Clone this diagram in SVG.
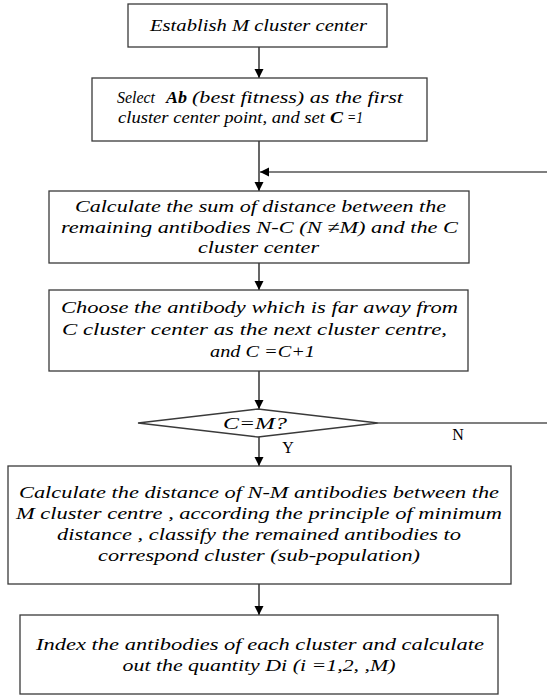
<svg xmlns="http://www.w3.org/2000/svg" width="547" height="695" viewBox="0 0 547 695">
<defs>
<marker id="ah" markerWidth="10" markerHeight="10" refX="9" refY="5" orient="auto" markerUnits="userSpaceOnUse">
<path d="M0,0.5 L9,5 L0,9.5 Z" fill="#000"/>
</marker>
<style>
.box{fill:#fff;stroke:#3a3a3a;stroke-width:1.3}
.t{font-family:"Liberation Serif","Times New Roman",serif;font-style:italic;font-size:17px;fill:#000;text-anchor:middle}
.s{text-anchor:start}
.u{font-family:"Liberation Serif","Times New Roman",serif;font-size:16px;fill:#000;text-anchor:middle}
.b{font-weight:bold}
.c{fill:none;stroke:#000;stroke-width:1.2}
</style>
</defs>
<rect width="547" height="695" fill="#fff"/>
<g id="connectors">
<line class="c" x1="259" y1="47" x2="259" y2="78" marker-end="url(#ah)"/>
<line class="c" x1="259" y1="141" x2="259" y2="191" marker-end="url(#ah)"/>
<line class="c" x1="547" y1="172" x2="260" y2="172" marker-end="url(#ah)"/>
<line class="c" x1="259" y1="263" x2="259" y2="290" marker-end="url(#ah)"/>
<line class="c" x1="259" y1="371" x2="259" y2="409" marker-end="url(#ah)"/>
<line class="c" x1="378" y1="423" x2="547" y2="423"/>
<line class="c" x1="259" y1="437" x2="259" y2="466" marker-end="url(#ah)"/>
<line class="c" x1="259" y1="584" x2="259" y2="615" marker-end="url(#ah)"/>
<text class="u" x="458" y="440">N</text>
<text class="u" x="288" y="453">Y</text>
</g>
<g id="n1">
<rect class="box" x="128" y="4" width="259" height="43"/>
<text class="t" x="258.5" y="31" textLength="217" lengthAdjust="spacingAndGlyphs">Establish M cluster center</text>
</g>
<g id="n2">
<rect class="box" x="92" y="78" width="335" height="63"/>
<text class="t s" x="117" y="103" textLength="38" lengthAdjust="spacingAndGlyphs">Select</text>
<text class="t s b" x="166" y="103" textLength="21" lengthAdjust="spacingAndGlyphs">Ab</text>
<text class="t s" x="192" y="103" textLength="211" lengthAdjust="spacingAndGlyphs">(best fitness) as the first</text>
<text class="t s" x="118" y="123" textLength="207" lengthAdjust="spacingAndGlyphs">cluster center point, and set</text>
<text class="t s b" x="330" y="123" textLength="13" lengthAdjust="spacingAndGlyphs">C</text>
<text class="t s" x="347" y="123" textLength="16" lengthAdjust="spacingAndGlyphs">=1</text>
</g>
<g id="n3">
<rect class="box" x="49" y="191" width="420" height="72"/>
<text class="t" x="260.5" y="212" textLength="371" lengthAdjust="spacingAndGlyphs">Calculate the sum of distance between the</text>
<text class="t" x="259.5" y="233" textLength="397" lengthAdjust="spacingAndGlyphs">remaining antibodies N-C (N ≠M)  and the C</text>
<text class="t" x="258.5" y="253" textLength="121" lengthAdjust="spacingAndGlyphs">cluster center</text>
</g>
<g id="n4">
<rect class="box" x="49" y="290" width="419" height="81"/>
<text class="t" x="259.5" y="313" textLength="397" lengthAdjust="spacingAndGlyphs">Choose  the antibody which is far away from</text>
<text class="t" x="254.5" y="335" textLength="385" lengthAdjust="spacingAndGlyphs">C  cluster center as the next  cluster centre,</text>
<text class="t" x="262.5" y="357" textLength="105" lengthAdjust="spacingAndGlyphs">and C =C+1</text>
</g>
<g id="n5">
<polygon class="box" points="138,423 258,409 378,423 258,437"/>
<text class="t" x="255" y="429" textLength="64" lengthAdjust="spacingAndGlyphs">C=M?</text>
</g>
<g id="n6">
<rect class="box" x="8" y="466" width="503" height="118"/>
<text class="t" x="259" y="498" textLength="480" lengthAdjust="spacingAndGlyphs">Calculate the distance of N-M  antibodies between the</text>
<text class="t" x="259" y="519" textLength="486" lengthAdjust="spacingAndGlyphs">M cluster centre , according  the principle of minimum</text>
<text class="t" x="259" y="540" textLength="404" lengthAdjust="spacingAndGlyphs">distance , classify the remained  antibodies to</text>
<text class="t" x="259" y="561" textLength="322" lengthAdjust="spacingAndGlyphs">correspond cluster (sub-population)</text>
</g>
<g id="n7">
<rect class="box" x="20" y="615" width="478" height="79"/>
<text class="t" x="260" y="650" textLength="448" lengthAdjust="spacingAndGlyphs">Index the antibodies of each  cluster and calculate</text>
<text class="t" x="259" y="671" textLength="273" lengthAdjust="spacingAndGlyphs">out the quantity Di (i =1,2, ,M)</text>
</g>
</svg>
